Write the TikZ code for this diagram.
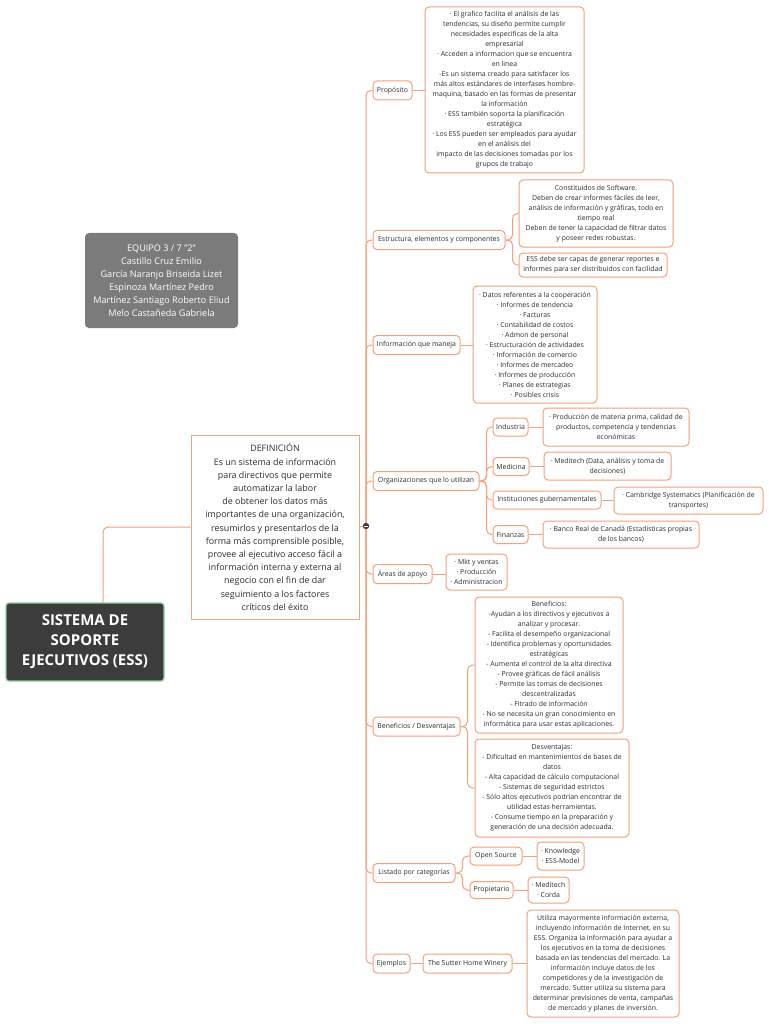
\documentclass[tikz,border=0pt]{standalone}
\usepackage{fontspec}
\setmainfont{Open Sans}
\definecolor{sal}{HTML}{F4A07C}
\definecolor{txt}{HTML}{2E2E2E}
\definecolor{teamc}{HTML}{7B7B7B}
\definecolor{rootc}{HTML}{3C3C3C}
\definecolor{rootb}{HTML}{8ACB9E}
\definecolor{dotc}{HTML}{4A3A34}
\begin{document}
\begin{tikzpicture}[x=1pt,y=-1pt,
  conn/.style={draw=sal, line width=1pt, rounded corners=5pt},
  box/.style={draw=sal, line width=1pt, fill=white, rounded corners=4pt, align=center, text=txt, inner sep=1pt, font=\fontsize{6.9}{10}\selectfont},
  lone/.style={box, minimum height=19pt},
]
\fill[white] (0,0) rectangle (768,1024);
\useasboundingbox (0,0) rectangle (768,1024);

% left part
\node[fill=rootc, draw=rootb, line width=1.2pt, rounded corners=3pt, minimum width=158pt, minimum height=78pt, text=white, align=center, font=\fontsize{15}{20}\selectfont\bfseries] (root) at (85,642) {SISTEMA DE\\SOPORTE\\EJECUTIVOS (ESS)};
\node[fill=teamc, rounded corners=4pt, minimum width=153pt, minimum height=95pt, text=white, align=center, font=\fontsize{9.1}{13}\selectfont] (team) at (161.5,280.5) {EQUIPO 3 / 7 "2"\\Castillo Cruz Emilio\\García Naranjo Briseida Lizet\\Espinoza Martínez Pedro\\Martínez Santiago Roberto Eliud\\Melo Castañeda Gabriela};
\node[draw=sal, line width=1pt, fill=white, minimum width=168pt, minimum height=184pt, text=txt, align=center, font=\fontsize{8.9}{13.2}\selectfont] (def) at (275,527) {DEFINICIÓN\\Es un sistema de información\\para directivos que permite\\automatizar la labor\\de obtener los datos más\\importantes de una organización,\\resumirlos y presentarlos de la\\forma más comprensible posible,\\provee al ejecutivo acceso fácil a\\información interna y externa al\\negocio con el fin de dar\\seguimiento a los factores\\críticos del éxito};
\coordinate (dot) at (366,526);

% level 1
\node[lone, minimum width=39pt] (prop) at (392.5,90.5) {Propósito};
\node[lone, minimum width=132pt] (estr) at (439,240) {Estructura, elementos y componentes};
\node[lone, minimum width=87pt] (info) at (416.5,345) {Información que maneja};
\node[lone, minimum width=106pt] (org) at (426,481) {Organizaciones que lo utilizan};
\node[lone, minimum width=59pt] (areas) at (402.5,574) {Áreas de apoyo};
\node[lone, minimum width=87pt] (benef) at (416.5,726.5) {Beneficios / Desventajas};
\node[lone, minimum width=82pt] (list) at (414,873) {Listado por categorías};
\node[lone, minimum width=37pt] (ejem) at (391.5,963.5) {Ejemplos};

% leaves
\node[box, minimum width=159pt, minimum height=166pt] (propT) at (504.5,90) {· El grafico facilita el análisis de las\\tendencias, su diseño permite cumplir\\necesidades especificas de la alta\\empresarial\\· Acceden a informacion que se encuentra\\en linea\\-Es un sistema creado para satisfacer los\\más altos estándares de interfases hombre-\\maquina, basado en las formas de presentar\\la información\\· ESS también soporta la planificación\\estratégica\\· Los ESS pueden ser empleados para ayudar\\en el análisis del\\impacto de las decisiones tomadas por los\\grupos de trabajo};
\node[box, minimum width=154pt, minimum height=67pt] (estr1) at (596,213.5) {Constituidos de Software.\\Deben de crear informes fáciles de leer,\\análisis de información y gráficas, todo en\\tiempo real\\Deben de tener la capacidad de filtrar datos\\y poseer redes robustas.};
\node[box, minimum width=148pt, minimum height=24pt] (estr2) at (593,265) {ESS debe ser capas de generar reportes e\\informes para ser distribuidos con facilidad};
\node[box, minimum width=124pt, minimum height=117pt] (infoT) at (535,344.5) {· Datos referentes a la cooperación\\· Informes de tendencia\\· Facturas\\· Contabilidad de costos\\· Admon de personal\\· Estructuración de actividades\\· Información de comercio\\· Informes de mercadeo\\· Informes de producción\\· Planes de estrategias\\· Posibles crisis};

\node[box, minimum width=35pt, minimum height=18pt] (indus) at (510.5,427) {Industria};
\node[box, minimum width=36pt, minimum height=18pt] (medic) at (511,466.5) {Medicina};
\node[box, minimum width=108pt, minimum height=18pt] (inst) at (547,500) {Instituciones gubernamentales};
\node[box, minimum width=35pt, minimum height=18pt] (finan) at (510.5,534.5) {Finanzas};
\node[box, minimum width=146pt, minimum height=38pt] (indusL) at (616,427) {· Producción de materia prima, calidad de\\productos, competencia y tendencias\\económicas};
\node[box, minimum width=127pt, minimum height=28pt] (medicL) at (607.5,466) {· Meditech (Data, análisis y toma de\\decisiones)};
\node[box, minimum width=149pt, minimum height=27pt] (instL) at (688.5,500.5) {· Cambridge Systematics (Planificación de\\transportes)};
\node[box, minimum width=156pt, minimum height=27pt] (finanL) at (621,534.5) {· Banco Real de Canadá (Estadísticas propias\\de los bancos)};

\node[box, minimum width=61pt, minimum height=36pt] (areasL) at (476.5,572) {· Mkt y ventas\\· Producción\\· Administracion};

\node[box, minimum width=148pt, minimum height=136pt] (benL) at (549,665) {Beneficios:\\-Ayudan a los directivos y ejecutivos a\\analizar y procesar.\\- Facilita el desempeño organizacional\\- Identifica problemas y oportunidades\\estratégicas\\- Aumenta el control de la alta directiva\\- Provee gráficas de fácil análisis\\- Permite las tomas de decisiones\\descentralizadas\\- Fitrado de información\\- No se necesita un gran conocimiento en\\informática para usar estas aplicaciones.};
\node[box, minimum width=154pt, minimum height=98pt] (desL) at (552,788) {Desventajas:\\- Dificultad en mantenimientos de bases de\\datos\\- Alta capacidad de cálculo computacional\\- Sistemas de seguridad estrictos\\- Sólo altos ejecutivos podrían encontrar de\\utilidad estas herramientas.\\- Consume tiempo en la preparación y\\generación de una decisión adecuada.};

\node[box, minimum width=52pt, minimum height=18pt] (open) at (496,856) {Open Source};
\node[box, minimum width=43pt, minimum height=17pt] (propi) at (491.5,890) {Propietario};
\node[box, minimum width=47pt, minimum height=28pt] (knowL) at (560.5,856) {· Knowledge\\· ESS-Model};
\node[box, minimum width=41pt, minimum height=26pt] (medL) at (548.5,890) {· Meditech\\· Corda};

\node[lone, minimum width=89pt] (sutter) at (467.5,963.5) {The Sutter Home Winery};
\node[box, minimum width=152pt, minimum height=107pt] (sutL) at (603,963.5) {Utiliza mayormente información externa,\\incluyendo información de Internet, en su\\ESS. Organiza la información para ayudar a\\los ejecutivos en la toma de decisiones\\basada en las tendencias del mercado. La\\información incluye datos de los\\competidores y de la investigación de\\mercado. Sutter utiliza su sistema para\\determinar previsiones de venta, campañas\\de mercado y planes de inversión.};

% connectors
\draw[conn] ([xshift=18pt]root.north) |- (def.west);
\draw[conn] (def.east) -- (dot);
\foreach \n in {prop,estr,info,org,areas,benef,list,ejem}
  \draw[conn] (dot) |- (\n.west);
\draw[conn] (prop.east) -- (prop.east -| propT.west);
\draw[conn] (estr.east) -- ++(7,0) |- (estr1.west);
\draw[conn] (estr.east) -- ++(7,0) |- (estr2.west);
\draw[conn] (info.east) -- (info.east -| infoT.west);
\foreach \n in {indus,medic,inst,finan}
  \draw[conn] (org.east) -- ++(7,0) |- (\n.west);
\draw[conn] (indus.east) -- (indus.east -| indusL.west);
\draw[conn] (medic.east) -- (medic.east -| medicL.west);
\draw[conn] (inst.east) -- (inst.east -| instL.west);
\draw[conn] (finan.east) -- (finan.east -| finanL.west);
\draw[conn] (areas.east) -- (areas.east -| areasL.west);
\draw[conn] (benef.east) -- ++(7,0) |- (benL.west);
\draw[conn] (benef.east) -- ++(7,0) |- (desL.west);
\draw[conn] (list.east) -- ++(7,0) |- (open.west);
\draw[conn] (list.east) -- ++(7,0) |- (propi.west);
\draw[conn] (open.east) -- (open.east -| knowL.west);
\draw[conn] (propi.east) -- (propi.east -| medL.west);
\draw[conn] (ejem.east) -- (sutter.west);
\draw[conn] (sutter.east) -- (sutter.east -| sutL.west);

% collapse dot
\fill[dotc] (dot) circle (3.2pt);
\draw[white, line width=0.6pt] ([xshift=-1.8pt]dot) -- ([xshift=1.8pt]dot);
\end{tikzpicture}
\end{document}
